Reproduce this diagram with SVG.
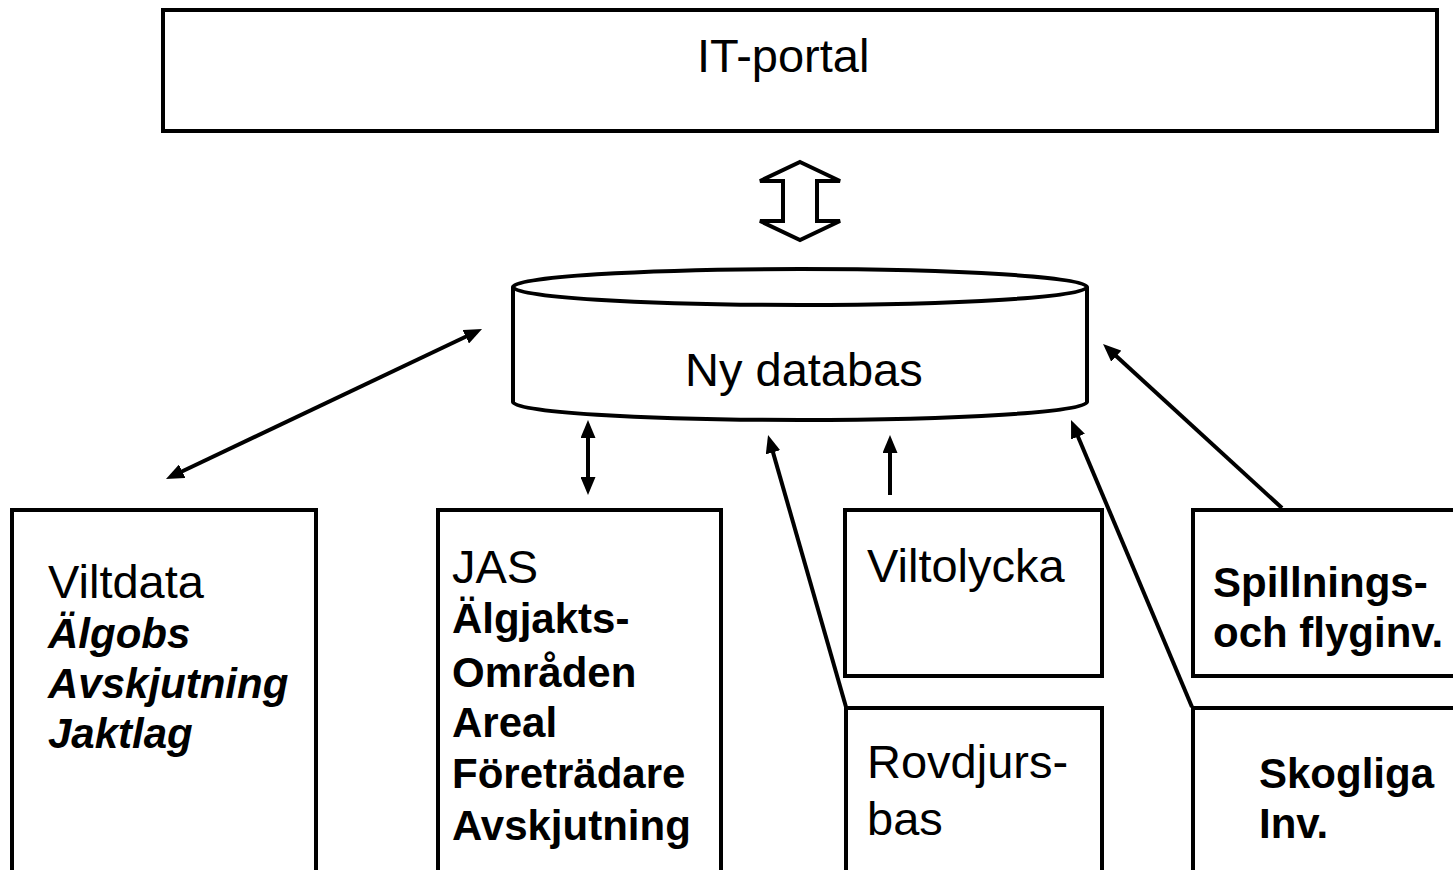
<svg xmlns="http://www.w3.org/2000/svg" width="1453" height="870" viewBox="0 0 1453 870">
<style>
.box{fill:#fff;stroke:#000;stroke-width:4}
.t{font-family:"Liberation Sans",Arial,sans-serif;fill:#000}
.r{font-size:47px}
.b{font-size:42px;font-weight:bold}
.bi{font-size:42px;font-weight:bold;font-style:italic}
.c{stroke:#000;stroke-width:4;fill:none}
</style>
<defs>
<marker id="ah" viewBox="0 0 18 15" refX="8" refY="7.5" markerWidth="18" markerHeight="15" markerUnits="userSpaceOnUse" orient="auto-start-reverse">
<path d="M0,0 L18,7.5 L0,15 z" fill="#000"/>
</marker>
</defs>
<rect width="1453" height="870" fill="#fff"/>
<g id="itportal">
<rect class="box" x="163" y="10" width="1274" height="121"/>
<text class="t r" x="697" y="72">IT-portal</text>
</g>
<g id="databas">
<path class="box" d="M513,287 L513,402 A287,18 0 0 0 1087,402 L1087,287"/>
<ellipse class="box" cx="800" cy="287" rx="287" ry="18"/>
<text class="t r" x="685" y="386">Ny databas</text>
</g>
<g id="viltdata">
<rect class="box" x="12" y="510" width="304" height="370"/>
<text class="t r" x="48" y="598">Viltdata</text>
<text class="t bi" x="48" y="648">Älgobs</text>
<text class="t bi" x="48" y="698">Avskjutning</text>
<text class="t bi" x="48" y="748">Jaktlag</text>
</g>
<g id="jas">
<rect class="box" x="438" y="510" width="283" height="370"/>
<text class="t r" x="452" y="583">JAS</text>
<text class="t b" x="452" y="633">Älgjakts-</text>
<text class="t b" x="452" y="687">Områden</text>
<text class="t b" x="452" y="737">Areal</text>
<text class="t b" x="452" y="788">Företrädare</text>
<text class="t b" x="452" y="840">Avskjutning</text>
</g>
<g id="viltolycka">
<rect class="box" x="845" y="510" width="257" height="166"/>
<text class="t r" x="867" y="582">Viltolycka</text>
</g>
<g id="rovdjursbas">
<rect class="box" x="846" y="708" width="256" height="172"/>
<text class="t r" x="867" y="778">Rovdjurs-</text>
<text class="t r" x="867" y="835">bas</text>
</g>
<g id="spillning">
<rect class="box" x="1193" y="510" width="272" height="166"/>
<text class="t b" x="1213" y="597">Spillnings-</text>
<text class="t b" x="1213" y="647">och flyginv.</text>
</g>
<g id="skogliga">
<rect class="box" x="1193" y="708" width="272" height="172"/>
<text class="t b" x="1259" y="788">Skogliga</text>
<text class="t b" x="1259" y="838">Inv.</text>
</g>
<g id="connectors">
<polygon points="800,162 840,181 817,181 817,221 840,221 800,240 760,221 783,221 783,181 760,181" fill="#fff" stroke="#000" stroke-width="4" stroke-linejoin="miter"/>
<line class="c" x1="175" y1="474.7" x2="473" y2="333.3" marker-start="url(#ah)" marker-end="url(#ah)"/>
<line class="c" x1="588" y1="430" x2="588" y2="485" marker-start="url(#ah)" marker-end="url(#ah)"/>
<line class="c" x1="846" y1="707" x2="770.8" y2="444.6" marker-end="url(#ah)"/>
<line class="c" x1="890" y1="495" x2="890" y2="445" marker-end="url(#ah)"/>
<line class="c" x1="1192" y1="707" x2="1074.9" y2="429.2" marker-end="url(#ah)"/>
<line class="c" x1="1282" y1="508" x2="1110.4" y2="350.8" marker-end="url(#ah)"/>
</g>
</svg>
